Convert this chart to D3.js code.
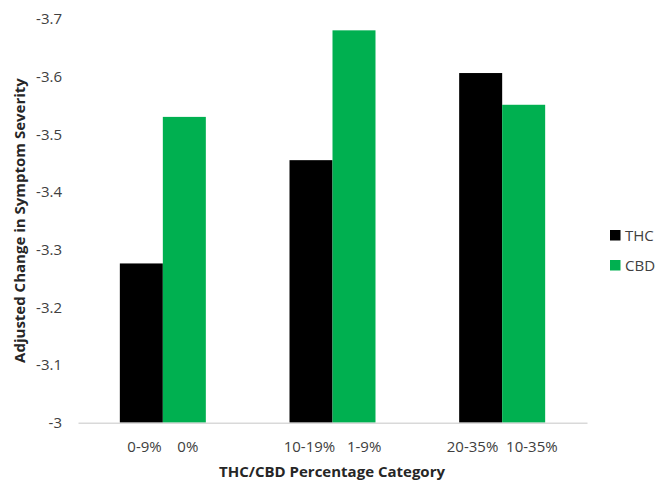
<!DOCTYPE html>
<html>
<head>
<meta charset="utf-8">
<script src="https://cdn.jsdelivr.net/npm/d3@7"></script>
<style>
  html, body { margin: 0; padding: 0; background: #fff; }
  svg { display: block; font-family: "Open Sans", sans-serif; }
  .tick text { white-space: pre; }
</style>
</head>
<body>
<svg id="chart" width="655" height="481"></svg>
<script>
// ---- data ----
const categories = ["0-9%    0%", "10-19%   1-9%", "20-35%  10-35%"];
const seriesNames = ["THC", "CBD"];
const thcValues = [-3.276, -3.455, -3.606];
const cbdValues = [-3.530, -3.680, -3.551];
const yTicks = [-3, -3.1, -3.2, -3.3, -3.4, -3.5, -3.6, -3.7];
const yTickLabels = ["-3", "-3.1", "-3.2", "-3.3", "-3.4", "-3.5", "-3.6", "-3.7"];
const colors = ["#000000", "#00B050"];

(function () {
const svg = d3.select("#chart");
const mLeft = 78, mRight = 587, mTop = 18.8, mBottom = 422.7;

const x = d3.scaleBand().domain(categories).range([mLeft, mRight]).padding(0);
const xInner = d3.scaleBand().domain(seriesNames).range([0, x.bandwidth()])
  .paddingInner(0).paddingOuter(0.973);
const y = d3.scaleLinear().domain([-3, -3.7]).range([mBottom, mTop]);

const rows = categories.map((c, i) => ({ cat: c, THC: thcValues[i], CBD: cbdValues[i] }));

// bars
const g = svg.append("g");
rows.forEach(r => {
  seriesNames.forEach((s, si) => {
    g.append("rect")
      .attr("x", x(r.cat) + xInner(s))
      .attr("width", xInner.bandwidth())
      .attr("y", y(r[s]))
      .attr("height", y(-3) - y(r[s]))
      .attr("fill", colors[si]);
  });
});

// y axis (labels only)
const yAxis = d3.axisLeft(y).tickValues(yTicks).tickSize(0).tickPadding(0)
  .tickFormat((d, i) => yTickLabels[i]);
const ya = svg.append("g").attr("transform", `translate(${62},0)`).call(yAxis);
ya.select(".domain").remove();
ya.selectAll("text").attr("font-size", 15).attr("fill", "#404040").attr("font-family", "Open Sans");

// x axis
const xAxis = d3.axisBottom(x).tickSize(0).tickPadding(0);
const xa = svg.append("g").attr("transform", `translate(0,${mBottom})`).call(xAxis);
xa.select(".domain").attr("stroke", "#D9D9D9").attr("stroke-width", 1.5);
xa.selectAll("text").attr("font-size", 15).attr("fill", "#404040").attr("font-family", "Open Sans")
  .attr("dy", null).attr("y", 29);

// axis titles
svg.append("text")
  .attr("transform", `translate(25,${(83 + 358) / 2}) rotate(-90)`)
  .attr("text-anchor", "middle")
  .attr("font-size", 15).attr("font-weight", "bold").attr("fill", "#262626")
  .text("Adjusted Change in Symptom Severity");
svg.append("text")
  .attr("x", 332).attr("y", 477)
  .attr("text-anchor", "middle")
  .attr("font-size", 15).attr("font-weight", "bold").attr("fill", "#262626")
  .text("THC/CBD Percentage Category");

// legend
const legend = svg.append("g").attr("transform", "translate(610,230)");
seriesNames.forEach((s, i) => {
  const lg = legend.append("g").attr("transform", `translate(0,${i * 30})`);
  lg.append("rect").attr("width", 10.5).attr("height", 10.5).attr("fill", colors[i]);
  lg.append("text").attr("x", 15).attr("y", 5.5).attr("dy", "0.35em")
    .attr("font-size", 15).attr("fill", "#404040").text(s);
});
})();
</script>
</body>
</html>
